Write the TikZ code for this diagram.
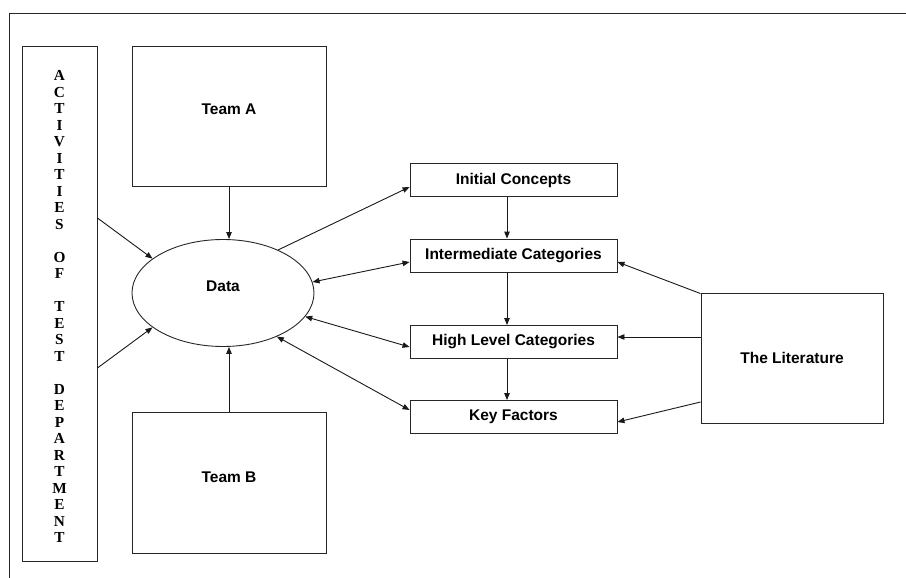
\documentclass[tikz,border=0pt]{standalone}
\usepackage{fontspec}
\setmainfont{Liberation Sans}
\newfontfamily\vserif{Liberation Serif}
\usetikzlibrary{arrows.meta,shapes.geometric}
\begin{document}
\begin{tikzpicture}[x=1pt,y=-1pt,
  box/.style={draw=black!85, line width=0.9pt, rectangle, inner sep=0pt, font=\fontsize{15.5}{18}\selectfont\bfseries},
  catbox/.style={box, minimum width=207pt, minimum height=33pt},
  conn/.style={draw=black!90, line width=0.9pt, -{Triangle[length=7pt,width=5.5pt]}},
  bconn/.style={draw=black!90, line width=0.9pt, {Triangle[length=7pt,width=5.5pt]}-{Triangle[length=7pt,width=5.5pt]}},
]
\useasboundingbox (0,0) rectangle (906,578);
\draw[line width=0.9pt, black!85] (906,13) -- (9,13) -- (9,578);

\node[box, minimum width=75pt, minimum height=515pt] (act) at (59.5,303.5) {};
\node[font=\vserif\fontsize{15.3}{16.5}\selectfont\bfseries, align=center, inner sep=0pt] (acttext) at (59.5,306.5)
 {A\\C\\T\\I\\V\\I\\T\\I\\E\\S\\[16.5pt]O\\F\\[16.5pt]T\\E\\S\\T\\[16.5pt]D\\E\\P\\A\\R\\T\\M\\E\\N\\T};

\node[box, minimum width=194pt, minimum height=140pt] (teamA) at (229,116) {\raisebox{13pt}{Team A}};
\node[box, minimum width=194pt, minimum height=141pt] (teamB) at (229,482.5) {\raisebox{11pt}{Team B}};
\node[box, ellipse, minimum width=182pt, minimum height=107pt] (data) at (223,293) {\raisebox{14pt}{Data}};

\node[catbox] (ic) at (513.5,180) {Initial Concepts};
\node[catbox] (im) at (513.5,255.5) {Intermediate Categories};
\node[catbox] (hl) at (513.5,342) {High Level Categories};
\node[catbox] (kf) at (513.5,417) {Key Factors};

\node[box, minimum width=182pt, minimum height=130pt] (lit) at (792,358) {The Literature};

\draw[conn] (teamA.south) -- (teamA.south |- data.north);
\draw[conn] (teamB.north) -- (teamB.north |- data.south);
\draw[conn] ([yshift=85.5pt]act.east) -- (data.154);
\draw[conn] ([yshift=-64.5pt]act.east) -- (data.206);

\draw[conn] (data.38) -- ([yshift=-7pt]ic.west);
\draw[bconn] (data.7) -- ([yshift=-6.5pt]im.west);
\draw[bconn] (data.-16) -- ([yshift=-5pt]hl.west);
\draw[bconn] (data.-39) -- ([yshift=7pt]kf.west);

\draw[conn] ([xshift=-6.5pt]ic.south) -- ([xshift=-6.5pt]im.north);
\draw[conn] ([xshift=-6.5pt]im.south) -- ([xshift=-6.5pt]hl.north);
\draw[conn] ([xshift=-6.5pt]hl.south) -- ([xshift=-6.5pt]kf.north);

\draw[conn] ([yshift=-1pt]lit.north west) -- ([yshift=-6.5pt]im.east);
\draw[conn] ([yshift=21pt]lit.west) -- ([yshift=21pt]lit.west -| hl.east);
\draw[conn] ([yshift=-44pt]lit.west) -- ([yshift=-5pt]kf.east);
\end{tikzpicture}
\end{document}
